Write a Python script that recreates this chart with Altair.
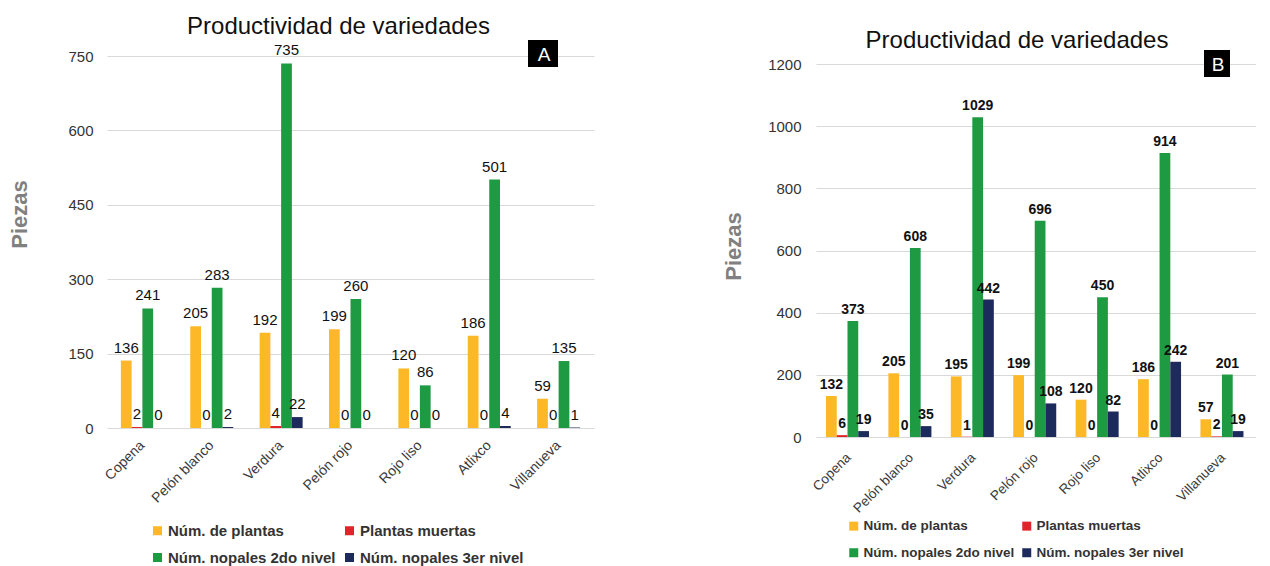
import altair as alt
import pandas as pd

variedades = ["Copena", "Pelón blanco", "Verdura", "Pelón rojo", "Rojo liso", "Atlixco", "Villanueva"]
series = ["Núm. de plantas", "Plantas muertas", "Núm. nopales 2do nivel", "Núm. nopales 3er nivel"]
colores = ["#FDB827", "#E2232A", "#1E9A42", "#1C2A5C"]

# Panel A
a_plantas = [136, 205, 192, 199, 120, 186, 59]
a_muertas = [2, 0, 4, 0, 0, 0, 0]
a_2do = [241, 283, 735, 260, 86, 501, 135]
a_3er = [0, 2, 22, 0, 0, 4, 1]
a_ticks = [0, 150, 300, 450, 600, 750]

# Panel B
b_plantas = [132, 205, 195, 199, 120, 186, 57]
b_muertas = [6, 0, 1, 0, 0, 0, 2]
b_2do = [373, 608, 1029, 696, 450, 914, 201]
b_3er = [19, 35, 442, 108, 82, 242, 19]
b_ticks = [0, 200, 400, 600, 800, 1000, 1200]

FONT = "Liberation Sans"
TITLE = "Productividad de variedades"


def build_df(cols):
    rows = []
    for s, vals in zip(series, cols):
        for v, val in zip(variedades, vals):
            rows.append({"variedad": v, "serie": s, "valor": val})
    return pd.DataFrame(rows)


def panel(df, letter, ticks, ymax, w, h, pin, pout, bar_pad, lab_pad, title_pad, title_y, title_dx,
          title_off, lbl_size, lbl_weight, lbl_dy, xlab_size, xlab_pad, leg_x, leg_y, leg_size,
          leg_colpad, leg_rowpad, box_x, box_y, box_w, box_h):
    base = alt.Chart(df).encode(
        x=alt.X("variedad:N", sort=variedades,
                scale=alt.Scale(paddingInner=pin, paddingOuter=pout),
                axis=alt.Axis(title=None, labelAngle=-45, labelAlign="right", labelBaseline="middle",
                              labelFont=FONT, labelFontSize=xlab_size,
                              labelColor="#3a3a3a", ticks=False, tickSize=0, domain=False,
                              labelPadding=xlab_pad, grid=False)),
        xOffset=alt.XOffset("serie:N", sort=series, scale=alt.Scale(paddingInner=bar_pad)),
    )
    yscale = alt.Scale(domain=[0, ymax], nice=False, zero=True)
    yenc = alt.Y("valor:Q", scale=yscale,
                 axis=alt.Axis(title="Piezas", values=ticks, format="d", grid=True, gridColor="#d9d9d9",
                               domain=False, ticks=False, tickSize=0, labelPadding=lab_pad,
                               labelFont=FONT, labelFontSize=15, labelColor="#333333",
                               titleFont=FONT, titleFontSize=22, titleFontWeight="bold",
                               titleColor="#808080", titlePadding=title_pad, titleY=title_y))
    bars = base.mark_bar().encode(
        y=yenc,
        color=alt.Color("serie:N", sort=series,
                        scale=alt.Scale(domain=series, range=colores),
                        legend=alt.Legend(title=None, orient="none", legendX=leg_x, legendY=leg_y,
                                          direction="horizontal", columns=2, padding=0,
                                          symbolType="square", symbolSize=81,
                                          symbolStrokeWidth=0, labelFont=FONT, labelLimit=400,
                                          labelFontSize=leg_size, labelFontWeight="bold",
                                          labelColor="#333333", columnPadding=leg_colpad,
                                          rowPadding=leg_rowpad, labelOffset=3)),
    )
    text = base.mark_text(font=FONT, fontSize=lbl_size, fontWeight=lbl_weight, color="#111111",
                          baseline="alphabetic", dy=lbl_dy).encode(
        y=alt.Y("valor:Q"), text=alt.Text("valor:Q", format="d"))
    tag = pd.DataFrame({"t": [letter]})
    box = alt.Chart(tag).mark_rect(color="black").encode(
        x=alt.value(box_x), x2=alt.value(box_x + box_w),
        y=alt.value(box_y), y2=alt.value(box_y + box_h))
    box_t = alt.Chart(tag).mark_text(color="white", font=FONT, fontSize=19,
                                     baseline="middle", align="center").encode(
        x=alt.value(box_x + box_w / 2 + 1), y=alt.value(box_y + box_h / 2 + 1), text="t:N")
    return alt.layer(bars, text, box, box_t).properties(
        width=w, height=h,
        title=alt.TitleParams(text=TITLE, font=FONT, fontSize=24, fontWeight="normal",
                              color="#111111", dx=title_dx, offset=title_off, anchor="middle",
                              frame="group"))


df_a = build_df([a_plantas, a_muertas, a_2do, a_3er])
df_b = build_df([b_plantas, b_muertas, b_2do, b_3er])

# B's plot sits 8px lower than A's: its scale keeps a blank strip above the 1200 line
b_top = 1200 * 381 / 373

chart_a = panel(df_a, "A", a_ticks, 750, 487, 372, 0.38, 0.2, 0.0, 14, 36, 158, -12, 1,
                15, "normal", -8, 14, 15, 43, 467, 15, 6, 11, 421, -16, 30, 27)
chart_b = panel(df_b, "B", b_ticks, b_top, 440, 381, 0.27, 0.16, 0.08, 15, 22, 190, -19, -3,
                14, "bold", -7, 13.5, 18, 31, 463, 13.5, 5, 12, 388, -6, 26, 27)

chart = alt.hconcat(chart_a, chart_b, spacing=128).resolve_legend(color="independent").properties(
    padding={"left": 0, "top": 7, "right": 0, "bottom": 0}
).configure(background="white").configure_view(stroke=None)

chart.save("out.html", embed_options={"renderer": "svg", "actions": False})
